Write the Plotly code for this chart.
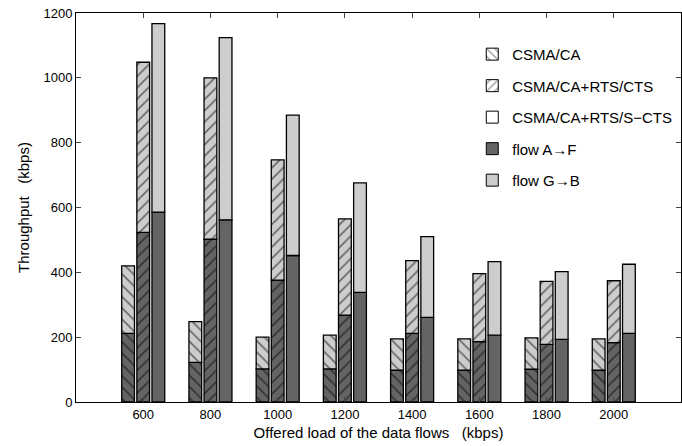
import plotly.graph_objects as go

loads = [600, 800, 1000, 1200, 1400, 1600, 1800, 2000]
schemes = ["CSMA/CA", "CSMA/CA+RTS/CTS", "CSMA/CA+RTS/S\u2212CTS"]
# flow A->F throughput (bottom segment)
flow_af = {
    "CSMA/CA":            [212, 122, 102, 102, 98, 98, 101, 98],
    "CSMA/CA+RTS/CTS":    [523, 502, 376, 268, 212, 186, 178, 183],
    "CSMA/CA+RTS/S\u2212CTS": [586, 562, 452, 338, 261, 206, 193, 212],
}
# total throughput (top of stacked bar)
total = {
    "CSMA/CA":            [420, 248, 200, 206, 195, 195, 198, 195],
    "CSMA/CA+RTS/CTS":    [1048, 1000, 747, 565, 436, 396, 372, 374],
    "CSMA/CA+RTS/S\u2212CTS": [1167, 1124, 885, 676, 510, 433, 402, 425],
}
patterns = {"CSMA/CA": "\\", "CSMA/CA+RTS/CTS": "/", "CSMA/CA+RTS/S\u2212CTS": ""}
offsets = [-64, -19, 26]
bar_w = 38
dark = "#646464"
light = "#cdcdcd"

fig = go.Figure()
for s, off in zip(schemes, offsets):
    af = flow_af[s]
    gb = [t - a for t, a in zip(total[s], af)]
    pat = dict(shape=patterns[s], fgcolor="black", size=8, solidity=0.2, fillmode="overlay")
    fig.add_trace(go.Bar(x=loads, y=af, base=[0]*len(af), width=bar_w, offset=off,
                         marker=dict(color=dark, pattern=pat, line=dict(color="black", width=1.3)),
                         showlegend=False))
    fig.add_trace(go.Bar(x=loads, y=gb, base=af, width=bar_w, offset=off,
                         marker=dict(color=light, pattern=pat, line=dict(color="black", width=1.3)),
                         showlegend=False))

# legend entries
for i, s in enumerate(schemes):
    fig.add_trace(go.Bar(x=[None], y=[None], name=s, legendgroup=f"g{i}",
                         marker=dict(color="white",
                                     pattern=dict(shape=patterns[s], fgcolor="black", size=7, solidity=0.2),
                                     line=dict(color="black", width=1))))
fig.add_trace(go.Bar(x=[None], y=[None], name="flow A\u2192F", legendgroup="g3",
                     marker=dict(color=dark, line=dict(color="black", width=1))))
fig.add_trace(go.Bar(x=[None], y=[None], name="flow G\u2192B", legendgroup="g4",
                     marker=dict(color=light, line=dict(color="black", width=1))))

font = "Arial, Liberation Sans, Helvetica, sans-serif"
fig.update_layout(
    width=682, height=446,
    margin=dict(l=76, r=1, t=13, b=44, autoexpand=False),
    barmode="overlay",
    plot_bgcolor="white", paper_bgcolor="white",
    font=dict(family=font, size=13, color="black"),
    legend=dict(x=0.655, y=0.936, xanchor="left", yanchor="top", bgcolor="rgba(0,0,0,0)",
                font=dict(size=15), tracegroupgap=9, traceorder="grouped"),
    xaxis=dict(range=[400, 2200], tickvals=loads, ticktext=[str(v) for v in loads],
               ticks="inside", ticklen=5, mirror="allticks", showline=True, linecolor="black",
               linewidth=1, showgrid=False, zeroline=False, automargin=False,
               title=dict(text="Offered load of the data flows   (kbps)", font=dict(size=15), standoff=6),
               tickfont=dict(size=13)),
    yaxis=dict(range=[0, 1200], tickvals=[0, 200, 400, 600, 800, 1000, 1200],
               ticks="inside", ticklen=5, mirror="allticks", showline=True, linecolor="black",
               linewidth=1, showgrid=False, zeroline=False, automargin=False,
               title=dict(text="Throughput   (kbps)", font=dict(size=15), standoff=10),
               tickfont=dict(size=13)),
)
fig.write_html("out.html")
